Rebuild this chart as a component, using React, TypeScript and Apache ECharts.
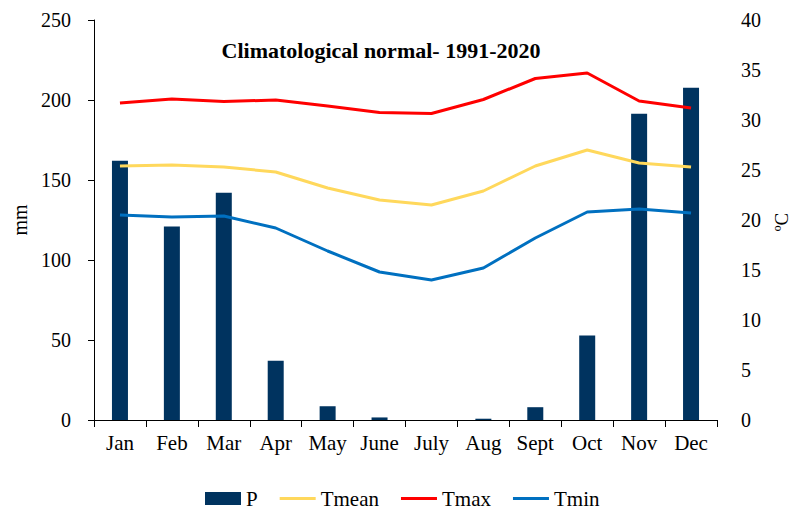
import React, { useEffect, useRef } from "react";
import * as echarts from "echarts";

const categories = ["Jan", "Feb", "Mar", "Apr", "May", "June", "July", "Aug", "Sept", "Oct", "Nov", "Dec"];
const precipitation = [162, 121, 142, 37, 8.6, 1.6, 0, 0.8, 8, 52.8, 191.4, 207.6];
const tMean = [25.4, 25.5, 25.3, 24.8, 23.2, 22.0, 21.5, 22.9, 25.4, 27.0, 25.7, 25.3];
const tMax = [31.7, 32.1, 31.85, 32.0, 31.4, 30.75, 30.65, 32.05, 34.15, 34.7, 31.9, 31.2];
const tMin = [20.5, 20.3, 20.4, 19.2, 16.9, 14.8, 14.0, 15.2, 18.2, 20.8, 21.1, 20.7];
const leftTicks = { min: 0, max: 250, interval: 50 };
const rightTicks = { min: 0, max: 40, interval: 5 };

const FONT = "'Liberation Serif', 'Times New Roman', serif";
const LINE_ICON = "path://M0,0 L36,0 L36,3 L0,3 Z";

export default function App() {
  const ref = useRef<HTMLDivElement>(null);
  useEffect(() => {
    if (!ref.current) return;
    const chart = echarts.init(ref.current, undefined, { renderer: "svg" });
    const lineSeries = (name: string, data: number[], color: string) => ({
      name,
      data,
      type: "line" as const,
      yAxisIndex: 1,
      symbol: "none",
      legendIcon: LINE_ICON,
      lineStyle: { color, width: 3 },
      itemStyle: { color },
      z: 3,
    });
    chart.setOption({
      animation: false,
      backgroundColor: "#ffffff",
      textStyle: { fontFamily: FONT, color: "#000" },
      title: {
        text: "Climatological normal- 1991-2020",
        left: 376,
        top: 34,
        textAlign: "center",
        textStyle: { fontFamily: FONT, fontWeight: "bold", fontSize: 22, color: "#000" },
      },
      graphic: [
        {
          type: "text",
          x: 781,
          y: 222,
          rotation: Math.PI / 2,
          style: {
            text: "ºC",
            fontFamily: FONT,
            fontSize: 19,
            fill: "#000",
            align: "center",
            verticalAlign: "middle",
          },
        },
      ],
      grid: { left: 94, right: 76, top: 20, bottom: 89, containLabel: false },
      legend: {
        top: 483,
        left: 200,
        itemWidth: 36,
        itemHeight: 13,
        itemGap: 22,
        textStyle: { fontFamily: FONT, fontSize: 21, color: "#000" },
        data: [
          { name: "P", icon: "rect" },
          { name: "Tmean", icon: LINE_ICON },
          { name: "Tmax", icon: LINE_ICON },
          { name: "Tmin", icon: LINE_ICON },
        ],
      },
      xAxis: {
        type: "category",
        data: categories,
        boundaryGap: true,
        axisLine: { show: true, lineStyle: { color: "#000", width: 1 } },
        axisTick: { show: true, alignWithLabel: false, length: 7, lineStyle: { color: "#000" } },
        axisLabel: { fontFamily: FONT, fontSize: 21, color: "#000", margin: 12, interval: 0 },
        splitLine: { show: false },
      },
      yAxis: [
        {
          type: "value",
          ...leftTicks,
          name: "mm",
          nameLocation: "middle",
          nameRotate: 90,
          nameGap: 64,
          nameTextStyle: { fontFamily: FONT, fontSize: 20, color: "#000" },
          axisLine: { show: true, lineStyle: { color: "#000", width: 1 } },
          axisTick: { show: true, length: 6, lineStyle: { color: "#000" } },
          axisLabel: { fontFamily: FONT, fontSize: 20, color: "#000", margin: 23 },
          splitLine: { show: false },
        },
        {
          type: "value",
          ...rightTicks,
          axisLine: { show: false },
          axisTick: { show: false },
          axisLabel: { fontFamily: FONT, fontSize: 20, color: "#000", margin: 24 },
          splitLine: { show: false },
        },
      ],
      series: [
        {
          name: "P",
          type: "bar",
          yAxisIndex: 0,
          data: precipitation,
          barWidth: 16,
          itemStyle: { color: "#00335F" },
          z: 2,
        },
        lineSeries("Tmean", tMean, "#FFD85C"),
        lineSeries("Tmax", tMax, "#FF0000"),
        lineSeries("Tmin", tMin, "#0070C0"),
      ],
    });
    return () => chart.dispose();
  }, []);
  return (
    <div
      ref={ref}
      style={{ position: "fixed", left: 0, top: 0, width: 793, height: 509, background: "#fff" }}
    />
  );
}
